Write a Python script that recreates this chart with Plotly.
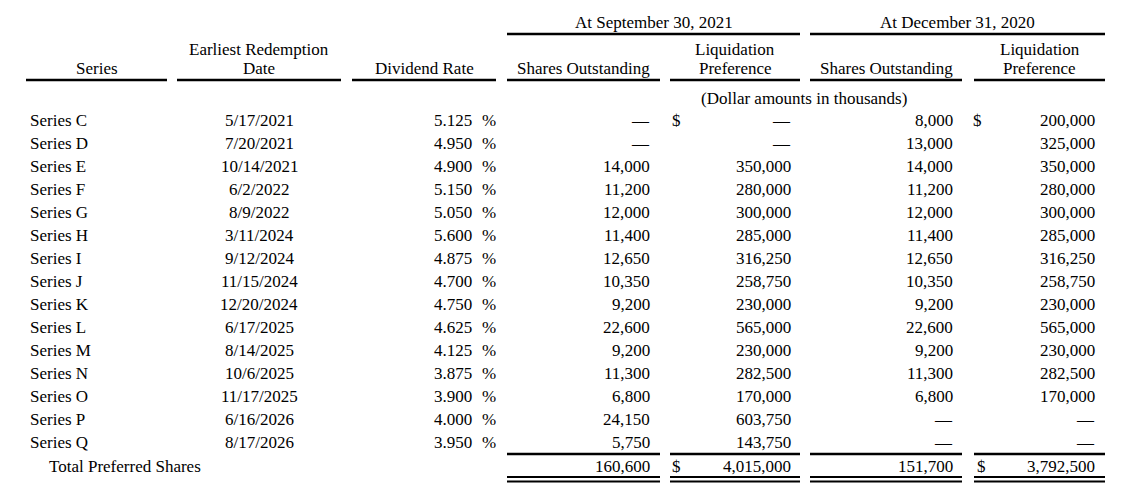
import plotly.graph_objects as go

# ---- table data ----
series = ["Series C", "Series D", "Series E", "Series F", "Series G", "Series H", "Series I",
          "Series J", "Series K", "Series L", "Series M", "Series N", "Series O", "Series P", "Series Q"]
redemption_dates = ["5/17/2021", "7/20/2021", "10/14/2021", "6/2/2022", "8/9/2022", "3/11/2024",
                    "9/12/2024", "11/15/2024", "12/20/2024", "6/17/2025", "8/14/2025", "10/6/2025",
                    "11/17/2025", "6/16/2026", "8/17/2026"]
dividend_rates = [5.125, 4.950, 4.900, 5.150, 5.050, 5.600, 4.875, 4.700, 4.750, 4.625,
                  4.125, 3.875, 3.900, 4.000, 3.950]
shares_sep_2021 = [None, None, 14000, 11200, 12000, 11400, 12650, 10350, 9200, 22600,
                   9200, 11300, 6800, 24150, 5750]
liq_sep_2021 = [None, None, 350000, 280000, 300000, 285000, 316250, 258750, 230000, 565000,
                230000, 282500, 170000, 603750, 143750]
shares_dec_2020 = [8000, 13000, 14000, 11200, 12000, 11400, 12650, 10350, 9200, 22600,
                   9200, 11300, 6800, None, None]
liq_dec_2020 = [200000, 325000, 350000, 280000, 300000, 285000, 316250, 258750, 230000, 565000,
                230000, 282500, 170000, None, None]

group_headers = ["At September 30, 2021", "At December 31, 2020"]
col_headers = [["Series"], ["Earliest Redemption", "Date"], ["Dividend Rate"], ["Shares Outstanding"],
               ["Liquidation", "Preference"], ["Shares Outstanding"], ["Liquidation", "Preference"]]
units_note = "(Dollar amounts in thousands)"
total_label = "Total Preferred Shares"

# ---- layout constants (pixels) ----
W, H = 1122, 483
FONT = dict(family="Liberation Serif, Times New Roman, serif", size=17, color="black")
col_spans = [(26, 167), (177, 341), (352, 496), (507, 660), (670, 800), (810, 962), (974, 1105)]
group_spans = [(507, 800), (810, 1105)]
ROW0, ROW_STEP = 120, 23
TOTAL_Y = 466


def fmt(v):
    return "\u2014" if v is None else f"{v:,.0f}"


def text(x, y, s, anchor="center"):
    return dict(x=x, y=y, text=s, showarrow=False, xanchor=anchor, yanchor="middle",
                font=FONT, xref="x", yref="y")


def hline(x0, x1, y, w=2.5):
    return dict(type="line", x0=x0, x1=x1, y0=y, y1=y, xref="x", yref="y",
                line=dict(color="black", width=w))


annotations = []
shapes = []

# group headers
for (a, b), label in zip(group_spans, group_headers):
    annotations.append(text((a + b) / 2, 22, label))
    shapes.append(hline(a, b, 34))

# column headers (last line sits just above the rule)
for (a, b), lines in zip(col_spans, col_headers):
    for k, label in enumerate(reversed(lines)):
        annotations.append(text((a + b) / 2, 68 - 19 * k, label))
    shapes.append(hline(a, b, 80))

annotations.append(text(804, 98, units_note))

# body rows
for i, name in enumerate(series):
    y = ROW0 + ROW_STEP * i
    annotations.append(text(28, y, name, "left"))
    annotations.append(text(259, y, redemption_dates[i]))
    annotations.append(text(474, y, f"{dividend_rates[i]:.3f}", "right"))
    annotations.append(text(480, y, "%", "left"))
    annotations.append(text(652, y, fmt(shares_sep_2021[i]), "right"))
    annotations.append(text(793, y, fmt(liq_sep_2021[i]), "right"))
    annotations.append(text(955, y, fmt(shares_dec_2020[i]), "right"))
    annotations.append(text(1097, y, fmt(liq_dec_2020[i]), "right"))
    if i == 0:
        annotations.append(text(670, y, "$", "left"))
        annotations.append(text(971, y, "$", "left"))

# totals
tot = [sum(v for v in col if v is not None)
       for col in (shares_sep_2021, liq_sep_2021, shares_dec_2020, liq_dec_2020)]
annotations.append(text(47, TOTAL_Y, total_label, "left"))
annotations.append(text(652, TOTAL_Y, fmt(tot[0]), "right"))
annotations.append(text(670, TOTAL_Y, "$", "left"))
annotations.append(text(793, TOTAL_Y, fmt(tot[1]), "right"))
annotations.append(text(955, TOTAL_Y, fmt(tot[2]), "right"))
annotations.append(text(975, TOTAL_Y, "$", "left"))
annotations.append(text(1097, TOTAL_Y, fmt(tot[3]), "right"))

for a, b in col_spans[3:]:
    shapes.append(hline(a, b, 454))
    shapes.append(hline(a, b, 477, 2))
    shapes.append(hline(a, b, 481.5, 2))

fig = go.Figure()
fig.update_layout(
    width=W, height=H, margin=dict(l=0, r=0, t=0, b=0),
    paper_bgcolor="white", plot_bgcolor="white",
    xaxis=dict(range=[0, W], visible=False, fixedrange=True),
    yaxis=dict(range=[H, 0], visible=False, fixedrange=True),
    annotations=annotations, shapes=shapes, showlegend=False,
)
fig.write_html("out.html", config={"displayModeBar": False},
               post_script="document.body.style.margin='0';")
